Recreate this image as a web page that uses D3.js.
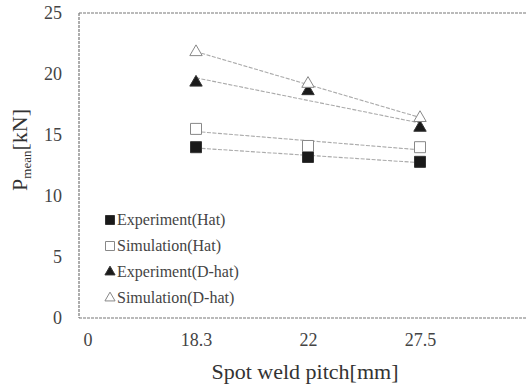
<!DOCTYPE html>
<html>
<head>
<meta charset="utf-8">
<script src="https://cdn.jsdelivr.net/npm/d3@7"></script>
<style>
  body { margin: 0; background: #fff; }
  svg text { font-family: "Liberation Serif", "DejaVu Serif", serif; fill: #333; }
</style>
</head>
<body>
<svg width="527" height="388"></svg>
<script>
// categories along the x axis (evenly spaced, first one is the "0" origin)
var pitchLabels = ["0", "18.3", "22", "27.5"];
var yTicks = [0, 5, 10, 15, 20, 25];

// mean load values [kN] at 18.3, 22, 27.5 mm
var expHat = [14.0, 13.2, 12.8];
var simHat = [15.5, 14.1, 14.0];
var expDHat = [19.3, 18.6, 15.6];
var simDHat = [21.8, 19.2, 16.4];

var series = [
  {name: "Experiment(Hat)", values: expHat, shape: "square", filled: true},
  {name: "Simulation(Hat)", values: simHat, shape: "square", filled: false},
  {name: "Experiment(D-hat)", values: expDHat, shape: "triangle", filled: true},
  {name: "Simulation(D-hat)", values: simDHat, shape: "triangle", filled: false}
];

var svg = d3.select("svg");
var plotLeft = 79, plotTop = 13, plotBottom = 318, plotRight = 527;

var x = d3.scaleLinear().domain([0, 3]).range([84, 420]);
var y = d3.scaleLinear().domain([0, 25]).range([plotBottom, plotTop]);

// frame (top, left, bottom)
var frame = svg.append("g").attr("stroke", "#777").attr("stroke-width", 1.2)
  .attr("stroke-dasharray", "3,1").attr("fill", "none");
frame.append("line").attr("x1", plotLeft).attr("x2", plotRight).attr("y1", plotTop).attr("y2", plotTop);
frame.append("line").attr("x1", plotLeft).attr("x2", plotLeft).attr("y1", plotTop).attr("y2", plotBottom);
frame.append("line").attr("x1", plotLeft).attr("x2", plotRight).attr("y1", plotBottom).attr("y2", plotBottom);

// y axis
var yAxis = svg.append("g").attr("transform", "translate(" + plotLeft + ",0)")
  .call(d3.axisLeft(y).tickValues(yTicks).tickSize(0).tickPadding(17));
yAxis.select(".domain").remove();
yAxis.selectAll("text").style("font-size", "18px").style("fill", "#444")
  .style("font-family", "'Liberation Serif', serif");

// x axis labels
var xAxis = svg.append("g").attr("transform", "translate(0," + plotBottom + ")")
  .call(d3.axisBottom(x).tickValues([0, 1, 2, 3]).tickFormat(function(d){ return pitchLabels[d]; })
    .tickSize(0).tickPadding(15));
xAxis.select(".domain").remove();
xAxis.selectAll("text").style("font-size", "18px").style("fill", "#444")
  .style("font-family", "'Liberation Serif', serif");
xAxis.selectAll(".tick").filter(function(d){ return d === 0; }).attr("transform", "translate(88,0)");

// axis titles
svg.append("text").attr("x", 305).attr("y", 379).attr("text-anchor", "middle")
  .style("font-size", "22px").style("fill", "#333").text("Spot weld pitch[mm]");

var yt = svg.append("text").attr("transform", "translate(27,150) rotate(-90)")
  .attr("text-anchor", "middle").style("font-size", "22px");
yt.append("tspan").text("P");
yt.append("tspan").attr("dy", 4).style("font-size", "13px").text("mean");
yt.append("tspan").attr("dy", -4).text("[kN]");

// linear trend lines (least squares on category index)
series.forEach(function(s) {
  var pts = s.values.map(function(v, i){ return [i + 1, v]; });
  var mx = d3.mean(pts, function(p){ return p[0]; });
  var my = d3.mean(pts, function(p){ return p[1]; });
  var num = d3.sum(pts, function(p){ return (p[0] - mx) * (p[1] - my); });
  var den = d3.sum(pts, function(p){ return (p[0] - mx) * (p[0] - mx); });
  var b = num / den, a = my - b * mx;
  svg.append("line")
    .attr("x1", x(1)).attr("y1", y(a + b * 1))
    .attr("x2", x(3)).attr("y2", y(a + b * 3))
    .attr("stroke", "#aaa").attr("stroke-width", 1.1).attr("stroke-dasharray", "4,1.5");
});

function marker(g, shape, filled, size) {
  var sym = shape === "square" ? d3.symbolSquare : d3.symbolTriangle;
  var area = shape === "square" ? size * size : size * size * 0.55;
  g.append("path").attr("d", d3.symbol().type(sym).size(area))
    .attr("fill", filled ? "#1a1a1a" : "#fff")
    .attr("stroke", filled ? "#333" : "#888").attr("stroke-width", 1);
}

series.forEach(function(s) {
  s.values.forEach(function(v, i) {
    var g = svg.append("g").attr("transform", "translate(" + x(i + 1) + "," + y(v) + ")");
    marker(g, s.shape, s.filled, 11);
  });
});

// legend
series.forEach(function(s, i) {
  var ly = 220 + i * 26;
  var g = svg.append("g").attr("transform", "translate(110," + ly + ")");
  marker(g, s.shape, s.filled, 9);
  svg.append("text").attr("x", 117).attr("y", ly + 5).style("font-size", "16px").style("fill", "#444").text(s.name);
});
</script>
</body>
</html>
